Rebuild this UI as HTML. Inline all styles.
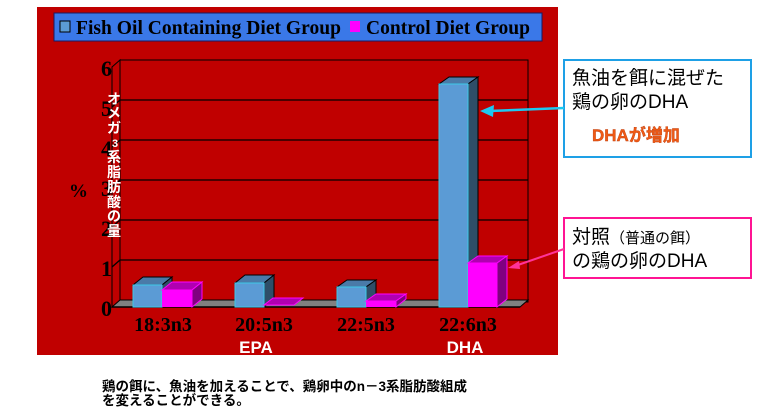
<!DOCTYPE html>
<html><head><meta charset="utf-8"><style>
body{margin:0;background:#fff;width:760px;height:413px;overflow:hidden}
</style></head><body>
<svg width="760" height="413" xmlns="http://www.w3.org/2000/svg">
<rect x="37" y="7" width="521" height="348" fill="#c00000"/>
<rect x="54" y="13" width="488" height="28" fill="#3a78e8" stroke="#1a1a60" stroke-width="1"/>
<rect x="60" y="21" width="10" height="11" fill="#5b9bd5" stroke="#000" stroke-width="1"/>
<text x="76" y="34" font-family="Liberation Serif" font-weight="bold" font-size="19.5" fill="#000" textLength="265">Fish Oil Containing Diet Group</text>
<rect x="350" y="21" width="10" height="11" fill="#ff00ff"/>
<text x="366" y="34" font-family="Liberation Serif" font-weight="bold" font-size="19.5" fill="#000" textLength="164">Control Diet Group</text>
<polygon points="112,67 120,60 120,302 112,307" fill="#c00000" stroke="#000"/>
<rect x="120" y="60" width="408" height="242" fill="#c00000" stroke="#000"/>
<g stroke="#000" stroke-width="1.3">
<line x1="112" y1="107" x2="120" y2="100"/><line x1="120" y1="100" x2="528" y2="100"/>
<line x1="112" y1="147" x2="120" y2="140"/><line x1="120" y1="140" x2="528" y2="140"/>
<line x1="112" y1="187" x2="120" y2="180"/><line x1="120" y1="180" x2="528" y2="180"/>
<line x1="112" y1="227" x2="120" y2="220"/><line x1="120" y1="220" x2="528" y2="220"/>
<line x1="112" y1="267" x2="120" y2="260"/><line x1="120" y1="260" x2="528" y2="260"/>
</g>
<polygon points="112,307 120,300 528,300 520,307" fill="#808080" stroke="#000"/>
<line x1="112" y1="307" x2="520" y2="307" stroke="#000" stroke-width="1.5"/>
<g font-family="Liberation Serif" font-weight="bold" font-size="22" fill="#000" text-anchor="end">
<text x="112" y="76">6</text><text x="112" y="116">5</text><text x="112" y="156">4</text>
<text x="112" y="196">3</text><text x="112" y="236">2</text><text x="112" y="276">1</text><text x="112" y="316">0</text>
</g>
<text x="69" y="197" font-family="Liberation Serif" font-weight="bold" font-size="19" fill="#000">%</text>
<g font-family="Liberation Sans, Noto Sans CJK JP, sans-serif" font-weight="bold" font-size="14" fill="#fff" text-anchor="middle">
<text x="114" y="104">オ</text><text x="114" y="118">メ</text><text x="114" y="133">ガ</text>
<text x="115" y="147" font-size="11">3</text><text x="114" y="162">系</text><text x="114" y="177">脂</text>
<text x="114" y="192">肪</text><text x="114" y="207">酸</text><text x="114" y="221">の</text><text x="114" y="236">量</text>
</g>
<g stroke-width="1">
<polygon points="133,285 143,277 172,277 162,285" fill="#4a7aa8" stroke="#000"/>
<polygon points="162,285 172,277 172,299 162,307" fill="#2e4e68" stroke="#000"/>
<rect x="133" y="285" width="29" height="22" fill="#5b9bd5" stroke="#3cc8e8"/>
<polygon points="162,290 172,282 202,282 192,290" fill="#b000b0" stroke="#ff00ff"/>
<polygon points="192,290 202,282 202,299 192,307" fill="#800080" stroke="#ff00ff"/>
<rect x="162" y="290" width="30" height="17" fill="#ff00ff"/>
<polygon points="235,283 245,275 274,275 264,283" fill="#4a7aa8" stroke="#000"/>
<polygon points="264,283 274,275 274,299 264,307" fill="#2e4e68" stroke="#000"/>
<rect x="235" y="283" width="29" height="24" fill="#5b9bd5" stroke="#3cc8e8"/>
<polygon points="264,305 273,298 303,298 294,305" fill="#b000b0" stroke="#ff00ff"/>
<polygon points="337,287 347,280 376,280 366,287" fill="#4a7aa8" stroke="#000"/>
<polygon points="366,287 376,280 376,299 366,307" fill="#2e4e68" stroke="#000"/>
<rect x="337" y="287" width="29" height="20" fill="#5b9bd5" stroke="#3cc8e8"/>
<polygon points="366,301 376,294 406,294 396,301" fill="#b000b0" stroke="#ff00ff"/>
<polygon points="396,301 406,294 406,299 396,307" fill="#800080" stroke="#ff00ff"/>
<rect x="366" y="301" width="30" height="6" fill="#ff00ff"/>
<polygon points="439,84 449,77 478,77 468,84" fill="#4a7aa8" stroke="#000"/>
<polygon points="468,84 478,77 478,299 468,307" fill="#2e4e68" stroke="#000"/>
<rect x="439" y="84" width="29" height="223" fill="#5b9bd5" stroke="#3cc8e8"/>
<polygon points="468,263 478,256 507,256 497,263" fill="#b000b0" stroke="#ff00ff"/>
<polygon points="497,263 507,256 507,299 497,307" fill="#800080" stroke="#ff00ff"/>
<rect x="468" y="263" width="29" height="44" fill="#ff00ff"/>
</g>
<g font-family="Liberation Serif" font-weight="bold" font-size="20" fill="#000" text-anchor="middle">
<text x="163" y="331">18:3n3</text><text x="264" y="331">20:5n3</text>
<text x="366" y="331">22:5n3</text><text x="468" y="331">22:6n3</text>
</g>
<g font-family="Liberation Sans, sans-serif" font-weight="bold" font-size="17" fill="#fff" text-anchor="middle">
<text x="256" y="353">EPA</text><text x="465" y="353">DHA</text>
</g>
<rect x="564" y="60" width="187" height="97" fill="#fff" stroke="#1ea0e6" stroke-width="2"/>
<rect x="564" y="218" width="187" height="60" fill="#fff" stroke="#ff1493" stroke-width="2"/>
<g font-family="Liberation Sans, Noto Sans CJK JP, sans-serif" font-size="19" fill="#000">
<text x="572" y="84">魚油を餌に混ぜた</text><text x="572" y="108">鶏の卵のDHA</text>
<text x="572" y="243">対照<tspan font-size="15">（普通の餌）</tspan></text><text x="572" y="267">の鶏の卵のDHA</text>
</g>
<text x="592" y="141" font-family="Liberation Sans, Noto Sans CJK JP, sans-serif" font-weight="bold" font-size="17" fill="#f05a14" stroke="#c04010" stroke-width="0.4">DHAが増加</text>
<line x1="564" y1="108" x2="490" y2="111" stroke="#1ec8f0" stroke-width="2.5"/>
<polygon points="480,111 494,105 493,117" fill="#1ec8f0"/>
<line x1="564" y1="249" x2="515" y2="266" stroke="#ff3399" stroke-width="2"/>
<polygon points="508,268 519,261 520,269" fill="#ff3399"/>
<g font-family="Liberation Sans, Noto Sans CJK JP, sans-serif" font-weight="bold" font-size="13.5" fill="#000">
<text x="102" y="391">鶏の餌に、魚油を加えることで、鶏卵中のn－3系脂肪酸組成</text>
<text x="102" y="405">を変えることができる。</text>
</g>
</svg>
</body></html>
